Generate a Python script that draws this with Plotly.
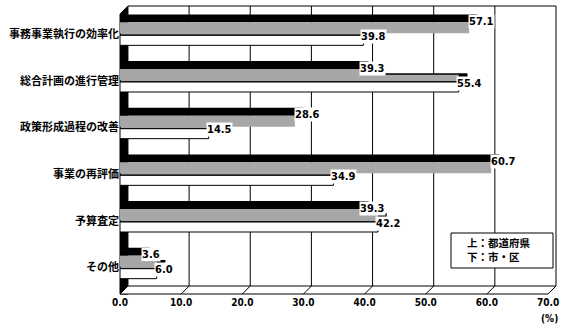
import plotly.graph_objects as go

# ---- data ----
categories = ["事務事業執行の効率化", "総合計画の進行管理", "政策形成過程の改善",
              "事業の再評価", "予算査定", "その他"]
pref_values = [57.1, 39.3, 28.6, 60.7, 39.3, 3.6]   # 上：都道府県 (dotted)
city_values = [39.8, 55.4, 14.5, 34.9, 42.2, 6.0]   # 下：市・区 (white)
x_ticks = [0, 10, 20, 30, 40, 50, 60, 70]
x_tick_labels = ["0.0", "10.0", "20.0", "30.0", "40.0", "50.0", "60.0", "70.0"]
legend_lines = ["上：都道府県", "下：市・区"]
unit_label = "(%)"

# ---- style / geometry ----
DX = 1.3      # 3D depth in x units
DY = 0.17     # 3D depth in y units
XMAX = 70 + DX
pos = list(range(len(categories)))

DOT_OFF, DOT_W = -0.15, 0.236
WHT_OFF, WHT_W = 0.129, 0.214

NUM_FONT = dict(family="Liberation Sans Narrow, DejaVu Sans Condensed, Arial Narrow, sans-serif",
                size=11, color="black", weight=700)
JP_FONT = dict(family="Noto Sans CJK JP, sans-serif", size=11, color="black", weight=700)

STIPPLE = dict(shape=".", size=2, solidity=0.65, fgcolor="black", bgcolor="white")

fig = go.Figure()


def add_3d_bar(values, off, w, top_marker, front_marker):
    # top face
    fig.add_trace(go.Bar(
        y=pos, x=[v + DX for v in values], base=0, orientation="h",
        offset=off - DY, width=DY, marker=top_marker, hoverinfo="skip"))
    # side face
    fig.add_trace(go.Bar(
        y=pos, x=[DX] * len(values), base=values, orientation="h",
        offset=off - DY, width=w, marker=dict(color="black", line=dict(width=0)),
        hoverinfo="skip"))
    # front face
    fig.add_trace(go.Bar(
        y=pos, x=values, base=0, orientation="h",
        offset=off, width=w, marker=front_marker, hoverinfo="skip"))


add_3d_bar(city_values, WHT_OFF, WHT_W,
           dict(color="white", line=dict(color="black", width=1.5), pattern=STIPPLE),
           dict(color="white", line=dict(color="black", width=1)))
add_3d_bar(pref_values, DOT_OFF, DOT_W,
           dict(color="black", line=dict(width=0)),
           dict(color="white", line=dict(color="black", width=0), pattern=STIPPLE))

# value labels
for i, v in enumerate(pref_values):
    fig.add_annotation(x=v, y=pos[i] + DOT_OFF, text=f"{v:.1f}", showarrow=False,
                       xanchor="left", yanchor="middle", xshift=-1, yshift=1,
                       font=NUM_FONT, bgcolor="white", borderpad=0)
for i, v in enumerate(city_values):
    fig.add_annotation(x=v, y=pos[i] + WHT_OFF, text=f"{v:.1f}", showarrow=False,
                       xanchor="left", yanchor="middle", xshift=-3, yshift=-1,
                       font=NUM_FONT, bgcolor="white", borderpad=0)


# frame shapes (paper coords derived from axis values)
def fx(v):
    return v / XMAX


def bx(v):
    return (v + DX) / XMAX


F = 8 / 280.0   # floor depth in paper units
shapes = []
# back-wall grid lines (incl. right border)
for t in x_ticks[1:]:
    shapes.append(dict(type="line", xref="paper", yref="paper", layer="below",
                       x0=bx(t), x1=bx(t), y0=0, y1=1, line=dict(color="black", width=1)))
# left wall
shapes.append(dict(type="rect", xref="paper", yref="paper", layer="below",
                   x0=fx(0), x1=bx(0), y0=-F, y1=1 - F,
                   fillcolor="black", line=dict(color="black", width=1)))
shapes.append(dict(type="path", xref="paper", yref="paper", layer="below",
                   path=f"M {fx(0)},{1 - F} L {bx(0)},1 L {bx(0)},{1 - F} Z",
                   fillcolor="black", line=dict(color="black", width=1)))
# top border
shapes.append(dict(type="line", xref="paper", yref="paper", layer="below",
                   x0=bx(0), x1=bx(70), y0=1, y1=1, line=dict(color="black", width=1)))
# floor
shapes.append(dict(type="path", xref="paper", yref="paper", layer="above",
                   path=f"M {fx(0)},{-F} L {fx(70)},{-F} L {bx(70)},0 L {bx(0)},0 Z",
                   fillcolor="white", line=dict(color="black", width=1)))
for t in x_ticks[1:-1]:
    shapes.append(dict(type="line", xref="paper", yref="paper", layer="above",
                       x0=fx(t), y0=-F, x1=bx(t), y1=0, line=dict(color="black", width=1)))
# legend box
shapes.append(dict(type="rect", xref="paper", yref="paper", layer="above",
                   x0=(451 - 120) / 436, x1=(553 - 120) / 436,
                   y0=(286 - 268) / 280, y1=(286 - 233) / 280,
                   fillcolor="white", line=dict(color="black", width=1)))

LEG_FONT = dict(JP_FONT, size=10.5)
fig.add_annotation(xref="paper", yref="paper", x=(465 - 120) / 436, y=(286 - 242) / 280,
                   text=legend_lines[0], showarrow=False, xanchor="left", yanchor="middle",
                   font=LEG_FONT)
fig.add_annotation(xref="paper", yref="paper", x=(465 - 120) / 436, y=(286 - 256) / 280,
                   text=legend_lines[1], showarrow=False, xanchor="left", yanchor="middle",
                   font=LEG_FONT)
fig.add_annotation(xref="paper", yref="paper", x=(549 - 120) / 436, y=(286 - 318) / 280,
                   text=unit_label, showarrow=False, xanchor="center", yanchor="middle",
                   font=dict(family=NUM_FONT["family"], size=10, color="black", weight=700))

fig.update_layout(
    width=570, height=325,
    margin=dict(l=120, r=14, t=6, b=39),
    paper_bgcolor="white", plot_bgcolor="white",
    barmode="overlay", showlegend=False, shapes=shapes,
    xaxis=dict(range=[0, XMAX], tickvals=x_ticks, ticktext=x_tick_labels,
               showgrid=False, zeroline=False, showline=False, ticks="",
               tickfont=dict(family=NUM_FONT["family"], size=10, color="black", weight=700),
               ticklabelstandoff=9),
    yaxis=dict(range=[5.5, -0.5], tickvals=[p + 0.1 for p in pos], ticktext=categories,
               showgrid=False, zeroline=False, showline=False, ticks="",
               tickfont=JP_FONT, ticklabelstandoff=0),
)

fig.write_html("out.html")
